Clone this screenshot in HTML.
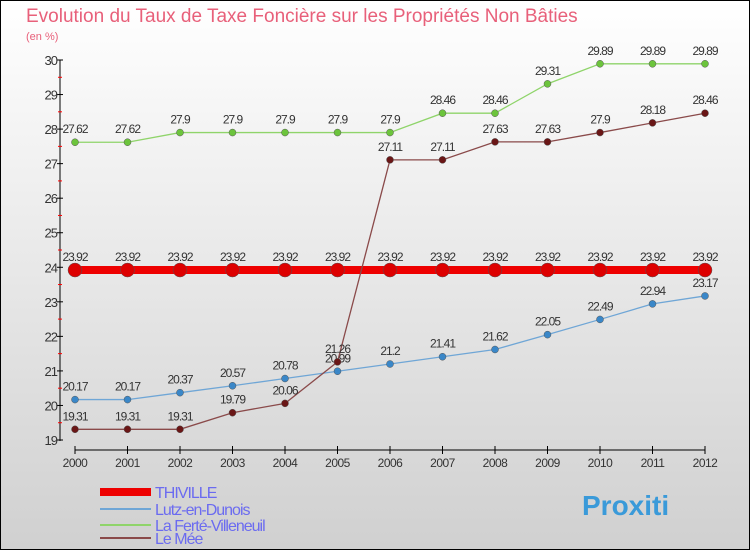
<!DOCTYPE html>
<html><head><meta charset="utf-8"><style>
body{margin:0}
#c{width:750px;height:550px;position:relative;font-family:"Liberation Sans",sans-serif;}
</style></head><body>
<div id="c">
<svg id="s" width="750" height="550" xmlns="http://www.w3.org/2000/svg">
<defs><linearGradient id="bg" x1="0" y1="0" x2="0" y2="1"><stop offset="0" stop-color="#ffffff"/><stop offset="1" stop-color="#d0d0d0"/></linearGradient></defs>
<rect x="0.5" y="0.5" width="749" height="549" fill="url(#bg)" stroke="#000"/>
<text x="26" y="22" font-size="19" fill="#e8607a">Evolution du Taux de Taxe Foncière sur les Propriétés Non Bâties</text>
<text x="26" y="40" font-size="11" fill="#e8607a">(en %)</text>
<g id="axes"></g><g id="series"></g><g id="legend"></g>
</svg></div>
<script>
const years=[2000,2001,2002,2003,2004,2005,2006,2007,2008,2009,2010,2011,2012];
const thiville=[23.92,23.92,23.92,23.92,23.92,23.92,23.92,23.92,23.92,23.92,23.92,23.92,23.92];
const lutz=[20.17,20.17,20.37,20.57,20.78,20.99,21.2,21.41,21.62,22.05,22.49,22.94,23.17];
const ferte=[27.62,27.62,27.9,27.9,27.9,27.9,27.9,28.46,28.46,29.31,29.89,29.89,29.89];
const mee=[19.31,19.31,19.31,19.79,20.06,21.26,27.11,27.11,27.63,27.63,27.9,28.18,28.46];
const yTicks=[19,20,21,22,23,24,25,26,27,28,29,30];
const NS="http://www.w3.org/2000/svg";
function X(i){return 75+i*52.5;}
function Y(v){return 440-(v-19)*34.545;}
function el(t,a,p){const e=document.createElementNS(NS,t);for(const k in a)e.setAttribute(k,a[k]);p.appendChild(e);return e;}
const ax=document.getElementById('axes');
let yl=el('line',{x1:60,y1:60,x2:60,y2:441,stroke:'#000'},ax);


yTicks.forEach(v=>{
 el('line',{x1:57,y1:Y(v),x2:63,y2:Y(v),stroke:'#000'},ax);
 if(v<30)el('line',{x1:58,y1:Y(v+0.5),x2:62,y2:Y(v+0.5),stroke:'#f00'},ax);
 const t=el('text',{x:57,y:Y(v)+5,'text-anchor':'end','font-size':13,fill:'#333','letter-spacing':'-1'},ax);
 t.textContent=v;
 
 
});
let xl=el('line',{x1:75,y1:450,x2:705,y2:450,stroke:'#000'},ax);


years.forEach((y,i)=>{
 el('line',{x1:X(i),y1:446,x2:X(i),y2:454,stroke:'#000'},ax);
 const t=el('text',{x:X(i),y:467,'text-anchor':'middle','font-size':12,fill:'#333','letter-spacing':'-0.5'},ax);
 t.textContent=y;
 
 
});
const sg=document.getElementById('series');
const defs=[['thiville',thiville,'#ee0000','#dd0000',8,7],['lutz',lutz,'#6fa6d6','#3a87c8',1.3,3.5],['ferte',ferte,'#8fd46a','#6cc43c',1.3,3.5],['mee',mee,'#8a4a4a','#6a1616',1.3,3.5]];
defs.forEach(([n,d,lc,pc,w,r])=>{
 const g=el('g',{},sg);
 
 
 const p=el('polyline',{points:d.map((v,i)=>X(i)+','+Y(v)).join(' '),fill:'none',stroke:lc,'stroke-width':w},g);
 
 
 d.forEach((v,i)=>{
  const c=el('circle',{cx:X(i),cy:Y(v),r:r,fill:pc,stroke:'#555','stroke-width':0.5},g);
  
  
  const t=el('text',{x:X(i),y:Y(v)-9,'text-anchor':'middle','font-size':12,fill:'#333','letter-spacing':'-1'},g);
  t.textContent=v;
  
  
 });
});
const lg=document.getElementById('legend');
[['THIVILLE','#ee0000',8,492],['Lutz-en-Dunois','#6fa6d6',2,509],['La Ferté-Villeneuil','#8fd46a',2,525],['Le Mée','#8a4a4a',2,538]].forEach(([n,c,w,y])=>{
 const g=el('g',{},lg);
 
 
 el('line',{x1:100,y1:y,x2:151,y2:y,stroke:c,'stroke-width':w},g);
 const t=el('text',{x:155,y:y+6,'font-size':16,fill:'#6b6bf0','letter-spacing':'-1'},g);
 t.textContent=n;
});
const pt=el('text',{x:582,y:515,'font-size':28,'font-weight':'bold',fill:'#3a9ad9'},lg);
pt.textContent='Proxiti';


</script>
</body></html>
